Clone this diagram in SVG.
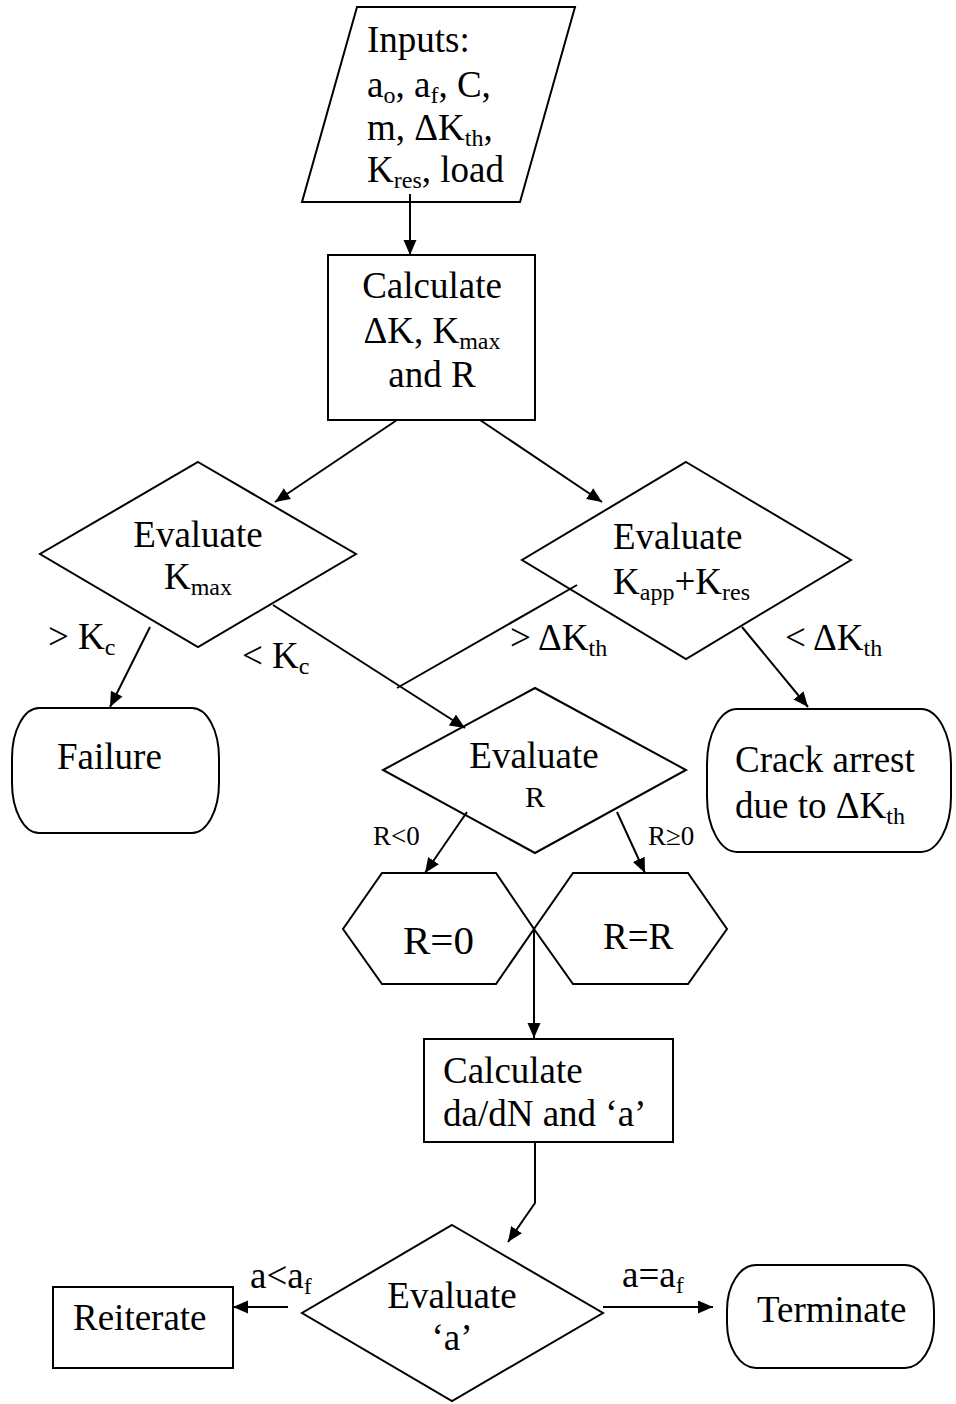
<svg xmlns="http://www.w3.org/2000/svg" width="956" height="1404" viewBox="0 0 956 1404">
<style>
.s{fill:#fff;stroke:#000;stroke-width:2}
.c{fill:none;stroke:#000;stroke-width:2}
text{font-family:"Liberation Serif","Times New Roman",serif;font-size:37px;fill:#000}
.m{text-anchor:middle}
.sub{font-size:24px}
.sm{font-size:27px}
</style>
<defs>
<marker id="ah" markerUnits="userSpaceOnUse" markerWidth="16" markerHeight="14" refX="15" refY="6.5" orient="auto">
<path d="M0,0 L15,6.5 L0,13 Z" fill="#000"/>
</marker>
</defs>
<rect width="956" height="1404" fill="#fff"/>
<g id="inputs">
<polygon class="s" points="357,7 575,7 520,202 302,202"/>
<text x="367" y="52">Inputs:</text>
<text x="367" y="97">a<tspan class="sub" dy="6">o</tspan><tspan dy="-6">, a</tspan><tspan class="sub" dy="6">f</tspan><tspan dy="-6">, C,</tspan></text>
<text x="367" y="140">m, ΔK<tspan class="sub" dy="6">th</tspan><tspan dy="-6">,</tspan></text>
<text x="367" y="182">K<tspan class="sub" dy="6">res</tspan><tspan dy="-6">, load</tspan></text>
</g>
<g id="calc1">
<rect class="s" x="328" y="255" width="207" height="165"/>
<text class="m" x="432" y="298">Calculate</text>
<text class="m" x="432" y="343">ΔK, K<tspan class="sub" dy="6">max</tspan></text>
<text class="m" x="432" y="387">and R</text>
</g>
<g id="evalKmax">
<polygon class="s" points="198,462 356,554 198,647 40,554"/>
<text class="m" x="198" y="547">Evaluate</text>
<text class="m" x="198" y="589">K<tspan class="sub" dy="6">max</tspan></text>
</g>
<g id="evalKapp">
<polygon class="s" points="686,462 851,560 686,659 522,560"/>
<text x="613" y="549">Evaluate</text>
<text x="613" y="594">K<tspan class="sub" dy="6">app</tspan><tspan dy="-6">+K</tspan><tspan class="sub" dy="6">res</tspan></text>
</g>
<g id="failure">
<rect class="s" x="12" y="708" width="207" height="125" rx="27" ry="50"/>
<text x="57" y="769">Failure</text>
</g>
<g id="evalR">
<polygon class="s" points="535,688 686,770 535,853 383,770"/>
<text class="m" x="534" y="768">Evaluate</text>
<text class="m" x="535" y="807" style="font-size:30px">R</text>
</g>
<g id="crackArrest">
<rect class="s" x="707" y="709" width="244" height="143" rx="30" ry="55"/>
<text x="735" y="772">Crack arrest</text>
<text x="735" y="818">due to ΔK<tspan class="sub" dy="6">th</tspan></text>
</g>
<g id="r0">
<polygon class="s" points="382,873 496,873 534,929 496,984 382,984 343,929"/>
<text x="403" y="954" style="font-size:41px">R=0</text>
</g>
<g id="rr">
<polygon class="s" points="573,873 688,873 727,929 688,984 573,984 534,929"/>
<text x="603" y="949">R=R</text>
</g>
<g id="calc2">
<rect class="s" x="424" y="1039" width="249" height="103"/>
<text x="443" y="1083">Calculate</text>
<text x="443" y="1126">da/dN and ‘a’</text>
</g>
<g id="evalA">
<polygon class="s" points="452,1225 603,1313 452,1401 302,1313"/>
<text class="m" x="452" y="1308">Evaluate</text>
<text class="m" x="452" y="1350">‘a’</text>
</g>
<g id="reiterate">
<rect class="s" x="53" y="1287" width="180" height="81"/>
<text x="73" y="1330">Reiterate</text>
</g>
<g id="terminate">
<rect class="s" x="727" y="1265" width="207" height="103" rx="29" ry="45"/>
<text x="757" y="1322">Terminate</text>
</g>
<g id="connectors">
<line class="c" x1="410" y1="194" x2="410" y2="255" marker-end="url(#ah)"/>
<line class="c" x1="397" y1="420" x2="275" y2="502" marker-end="url(#ah)"/>
<line class="c" x1="480" y1="420" x2="602" y2="502" marker-end="url(#ah)"/>
<line class="c" x1="150" y1="627" x2="110" y2="707" marker-end="url(#ah)"/>
<line class="c" x1="273" y1="605" x2="465" y2="728" marker-end="url(#ah)"/>
<line class="c" x1="577" y1="585" x2="397" y2="688"/>
<line class="c" x1="742" y1="627" x2="808" y2="707" marker-end="url(#ah)"/>
<line class="c" x1="467" y1="812" x2="425" y2="873" marker-end="url(#ah)"/>
<line class="c" x1="617" y1="812" x2="645" y2="873" marker-end="url(#ah)"/>
<line class="c" x1="534" y1="929" x2="534" y2="1038" marker-end="url(#ah)"/>
<polyline class="c" points="535,1142 535,1203 508,1242" marker-end="url(#ah)"/>
<line class="c" x1="288" y1="1307" x2="233" y2="1307" marker-end="url(#ah)"/>
<line class="c" x1="603" y1="1307" x2="713" y2="1307" marker-end="url(#ah)"/>
<text x="48" y="649">&gt; K<tspan class="sub" dy="6">c</tspan></text>
<text x="242" y="668">&lt; K<tspan class="sub" dy="6">c</tspan></text>
<text x="510" y="650">&gt; ΔK<tspan class="sub" dy="6">th</tspan></text>
<text x="785" y="650">&lt; ΔK<tspan class="sub" dy="6">th</tspan></text>
<text class="sm" x="373" y="845">R&lt;0</text>
<text class="sm" x="648" y="845">R≥0</text>
<text x="250" y="1288">a&lt;a<tspan class="sub" dy="6">f</tspan></text>
<text x="622" y="1287">a=a<tspan class="sub" dy="6">f</tspan></text>
</g>
</svg>
